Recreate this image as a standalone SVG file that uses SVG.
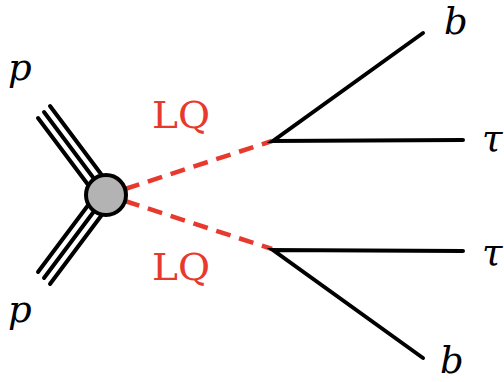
<svg xmlns="http://www.w3.org/2000/svg" width="504" height="382" viewBox="0 0 504 382">
<style>
.p{stroke:#000;stroke-width:4;fill:none;stroke-linecap:round}
.lq{stroke:#e8392e;stroke-width:4.5;fill:none;stroke-dasharray:15 9}
.f{stroke:#000;stroke-width:4;fill:none;stroke-linecap:round;stroke-linejoin:miter}
.m{font-family:"DejaVu Serif","Liberation Serif",serif;font-style:italic;font-size:37px;fill:#000}
.r{font-family:"DejaVu Serif","Liberation Serif",serif;font-size:37px;fill:#e8392e}
</style>
<rect width="504" height="382" fill="#fff"/>
<g id="connectors">
<g id="proton-top">
<line class="p" x1="38" y1="118" x2="92" y2="190"/>
<line class="p" x1="44" y1="112" x2="98" y2="184"/>
<line class="p" x1="50" y1="106" x2="104" y2="178"/>
</g>
<g id="proton-bottom">
<line class="p" x1="38" y1="272" x2="92" y2="200"/>
<line class="p" x1="44" y1="278" x2="98" y2="206"/>
<line class="p" x1="50" y1="284" x2="104" y2="212"/>
</g>
<line id="lq-top" class="lq" x1="125" y1="189" x2="272" y2="141"/>
<line id="lq-bottom" class="lq" x1="125" y1="201" x2="272" y2="249"/>
<polyline id="decay-top" class="f" points="423,33 273,141 463,140"/>
<polyline id="decay-bottom" class="f" points="423,358 273,250 463,251"/>
</g>
<g id="blob">
<circle cx="106" cy="195" r="20" fill="#b3b3b3" stroke="#000" stroke-width="4"/>
</g>
<g id="labels">
<text class="m" x="8" y="80">p</text>
<text class="m" x="8" y="322">p</text>
<text class="r" x="152" y="128" textLength="58" lengthAdjust="spacingAndGlyphs">LQ</text>
<text class="r" x="152" y="280" textLength="58" lengthAdjust="spacingAndGlyphs">LQ</text>
<text class="m" x="444" y="34">b</text>
<text class="m" x="440" y="373">b</text>
<text class="m" x="482" y="151">τ</text>
<text class="m" x="482" y="265">τ</text>
</g>
</svg>
